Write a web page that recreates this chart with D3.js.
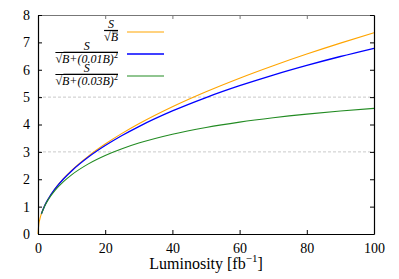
<!doctype html>
<html lang="en">
<head>
<meta charset="utf-8">
<title>Significance vs luminosity</title>
<script src="https://d3js.org/d3.v7.min.js"></script>
<style>
  body { margin: 0; background: #fff; }
</style>
</head>
<body>
<svg class="chart"></svg>
<script>
// values
var lumi =      [0, 0.25, 0.5, 1, 2, 3, 5, 7.5, 10, 15, 20, 25, 30, 40, 50, 60, 70, 80, 90, 100];
var sigPlain =  [0, 0.368, 0.520, 0.735, 1.039, 1.273, 1.644, 2.013, 2.324, 2.847, 3.287, 3.675, 4.026, 4.649, 5.197, 5.693, 6.149, 6.574, 6.973, 7.350];
var sigSys1 =   [null, null, null, 0.734, 1.037, 1.270, 1.637, 2.000, 2.304, 2.811, 3.231, 3.598, 3.925, 4.495, 4.985, 5.417, 5.806, 6.159, 6.484, 6.784];
var sigSys3 =   [null, null, null, 0.729, 1.023, 1.244, 1.583, 1.904, 2.161, 2.562, 2.868, 3.115, 3.321, 3.645, 3.892, 4.088, 4.247, 4.380, 4.492, 4.588];
var xTicks = [0, 20, 40, 60, 80, 100];
var yTicks = [0, 1, 2, 3, 4, 5, 6, 7, 8];
var gridLines = [3, 5];

var series = [
  {values: sigPlain, color: "#ffa500", width: 1.1, radicand: "B"},
  {values: sigSys1, color: "#0000ff", width: 1.3, radicand: "B+(0.01B)"},
  {values: sigSys3, color: "#228b22", width: 1.1, radicand: "B+(0.03B)"}
];

var FONT = "Liberation Serif, DejaVu Serif, serif";
var width = 399, height = 279;
var x = d3.scaleLinear().domain([0, 100]).range([38, 374]);
var y = d3.scaleLinear().domain([0, 8]).range([234, 15]);

var svg = d3.select(".chart").attr("width", width).attr("height", height)
    .style("font-family", FONT);

// dashed grid
svg.selectAll("line.grid")
    .data(gridLines)
  .enter().append("line")
    .attr("class", "grid")
    .attr("x1", x(0)).attr("x2", x(100))
    .attr("y1", function(d) { return y(d); })
    .attr("y2", function(d) { return y(d); })
    .attr("stroke", "#bbb").attr("stroke-width", 0.8)
    .attr("stroke-dasharray", "3,2");

// curves
var line = d3.line()
    .defined(function(d) { return d[1] != null; })
    .x(function(d) { return x(d[0]); })
    .y(function(d) { return y(d[1]); })
    .curve(d3.curveMonotoneX);

series.forEach(function(s) {
  svg.append("path")
      .datum(lumi.map(function(l, i) { return [l, s.values[i]]; }))
      .attr("fill", "none")
      .attr("stroke", s.color)
      .attr("stroke-width", s.width)
      .attr("d", line);
});

// axes
function styleAxis(g, col) {
  g.attr("font-family", null);
  g.selectAll("path.domain").attr("stroke", col).attr("stroke-width", 1.2).attr("fill", "none");
  g.selectAll(".tick line").attr("stroke", col);
  g.selectAll("text").attr("font-size", 14).attr("fill", "#000").style("font-family", FONT);
}

svg.append("g")
    .attr("transform", "translate(0," + y(8) + ")")
    .call(d3.axisTop(x).tickValues(xTicks).tickSize(-4).tickSizeOuter(0).tickFormat(""))
    .call(styleAxis, "#777");

svg.append("g")
    .attr("transform", "translate(" + x(100) + ",0)")
    .call(d3.axisRight(y).tickValues(yTicks).tickSize(-4).tickSizeOuter(0).tickFormat(""))
    .call(styleAxis, "#000");

svg.append("g")
    .attr("transform", "translate(0," + y(0) + ")")
    .call(d3.axisBottom(x).tickValues(xTicks).tickSize(-4).tickSizeOuter(0).tickPadding(9))
    .call(styleAxis, "#000");

svg.append("g")
    .attr("transform", "translate(" + x(0) + ",0)")
    .call(d3.axisLeft(y).tickValues(yTicks).tickSize(-4).tickSizeOuter(0).tickPadding(8))
    .call(styleAxis, "#000");

// x label
var xl = svg.append("text")
    .attr("x", 206).attr("y", 269)
    .attr("text-anchor", "middle")
    .style("font-family", FONT)
    .attr("font-size", 16)
    .text("Luminosity [fb");
xl.append("tspan").attr("dy", -7).attr("font-size", 11).text("\u22121");
xl.append("tspan").attr("dy", 7).text("]");

// legend
var legY = [32, 54, 76];
series.forEach(function(s, i) {
  var g = svg.append("g").attr("transform", "translate(118," + legY[i] + ")")
      .style("font-family", FONT);
  var den = g.append("text")
      .attr("x", 0).attr("y", 9)
      .attr("text-anchor", "end")
      .attr("font-size", 12);
  den.append("tspan").text("\u221a");
  den.append("tspan").attr("font-style", "italic").text(s.radicand);
  if (i > 0) den.append("tspan").attr("dy", -5).attr("font-size", 8.5).text("2");
  var bb = den.node().getBBox();
  var barLeft = bb.x;
  g.append("line")
      .attr("x1", barLeft).attr("x2", 0)
      .attr("y1", -1.5).attr("y2", -1.5)
      .attr("stroke", "#000").attr("stroke-width", 1.2);
  g.append("line")
      .attr("x1", barLeft + 8).attr("x2", 0)
      .attr("y1", bb.y + 2).attr("y2", bb.y + 2)
      .attr("stroke", "#000").attr("stroke-width", 0.6);
  g.append("text")
      .attr("x", barLeft / 2).attr("y", -4)
      .attr("text-anchor", "middle")
      .attr("font-size", 12)
      .attr("font-style", "italic")
      .text("S");
  g.append("line")
      .attr("x1", 9).attr("x2", 46)
      .attr("y1", 0).attr("y2", 0)
      .attr("stroke", s.color).attr("stroke-width", s.width);
});
</script>
</body>
</html>
